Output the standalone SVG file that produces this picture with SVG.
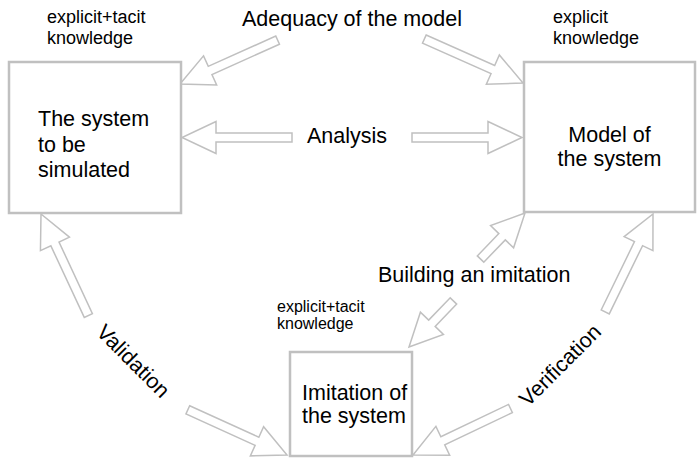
<svg xmlns="http://www.w3.org/2000/svg" width="700" height="458" viewBox="0 0 700 458">
  <style>
    .box { fill: #ffffff; stroke: #c0c0c0; stroke-width: 2.5; }
    .arrow { fill: #ffffff; stroke: #c0c0c0; stroke-width: 1.5; stroke-linejoin: miter; }
    .big { font-family: "Liberation Sans", Arial, sans-serif; font-size: 21.5px; fill: #000000; }
    .small { font-family: "Liberation Sans", Arial, sans-serif; font-size: 18px; fill: #000000; }
    .tiny { font-family: "Liberation Sans", Arial, sans-serif; font-size: 16px; fill: #000000; }
  </style>
  <rect width="700" height="458" fill="#ffffff"/>

  <!-- block arrows: tip at local origin, pointing along +x -->
  <g id="connectors">
    <polygon class="arrow" transform="translate(180,84) rotate(155.8)" points="-107,-4.5 -33,-4.5 -33,-16 0,0 -33,16 -33,4.5 -107,4.5"/>
    <polygon class="arrow" transform="translate(523,83) rotate(24)" points="-108,-4.5 -33,-4.5 -33,-16 0,0 -33,16 -33,4.5 -108,4.5"/>
    <polygon class="arrow" transform="translate(182,137.5) rotate(180)" points="-110,-4.5 -34,-4.5 -34,-16 0,0 -34,16 -34,4.5 -110,4.5"/>
    <polygon class="arrow" transform="translate(522,137.5)" points="-110,-4.5 -34,-4.5 -34,-16 0,0 -34,16 -34,4.5 -110,4.5"/>
    <polygon class="arrow" transform="translate(41,214) rotate(-115)" points="-112,-4.5 -33,-4.5 -33,-16 0,0 -33,16 -33,4.5 -112,4.5"/>
    <polygon class="arrow" transform="translate(287,455) rotate(24.5)" points="-109,-4.5 -33,-4.5 -33,-16 0,0 -33,16 -33,4.5 -109,4.5"/>
    <polygon class="arrow" transform="translate(525,213) rotate(-46)" points="-64,-4.5 -33,-4.5 -33,-16 0,0 -33,16 -33,4.5 -64,4.5"/>
    <polygon class="arrow" transform="translate(409,347) rotate(134)" points="-64,-4.5 -33,-4.5 -33,-16 0,0 -33,16 -33,4.5 -64,4.5"/>
    <polygon class="arrow" transform="translate(653,214) rotate(-64)" points="-109,-4.5 -33,-4.5 -33,-16 0,0 -33,16 -33,4.5 -109,4.5"/>
    <polygon class="arrow" transform="translate(413,455) rotate(154.5)" points="-108,-4.5 -33,-4.5 -33,-16 0,0 -33,16 -33,4.5 -108,4.5"/>
  </g>

  <!-- connector labels -->
  <g id="labels">
    <text class="big" x="242" y="26">Adequacy of the model</text>
    <text class="big" x="307" y="143">Analysis</text>
    <text class="big" x="378" y="282">Building an imitation</text>
    <text class="big" text-anchor="middle" transform="translate(133.5,361) rotate(45)" x="0" y="7.5">Validation</text>
    <text class="big" text-anchor="middle" transform="translate(560,365) rotate(-45)" x="0" y="7.5">Verification</text>
  </g>

  <g id="system">
    <rect class="box" x="9" y="62" width="172" height="151"/>
    <text class="big" x="38" y="126">The system</text>
    <text class="big" x="38" y="151.5">to be</text>
    <text class="big" x="38" y="177">simulated</text>
    <text class="small" x="47" y="23">explicit+tacit</text>
    <text class="small" x="47" y="44">knowledge</text>
  </g>

  <g id="model">
    <rect class="box" x="524" y="62" width="171" height="150"/>
    <text class="big" text-anchor="middle" x="609.5" y="142">Model of</text>
    <text class="big" text-anchor="middle" x="609.5" y="166">the system</text>
    <text class="small" x="553" y="23">explicit</text>
    <text class="small" x="553" y="44">knowledge</text>
  </g>

  <g id="imitation">
    <rect class="box" x="290" y="352" width="122" height="104"/>
    <text class="big" x="302" y="400">Imitation of</text>
    <text class="big" x="302" y="423">the system</text>
    <text class="tiny" x="277" y="312">explicit+tacit</text>
    <text class="tiny" x="277" y="329">knowledge</text>
  </g>
</svg>
